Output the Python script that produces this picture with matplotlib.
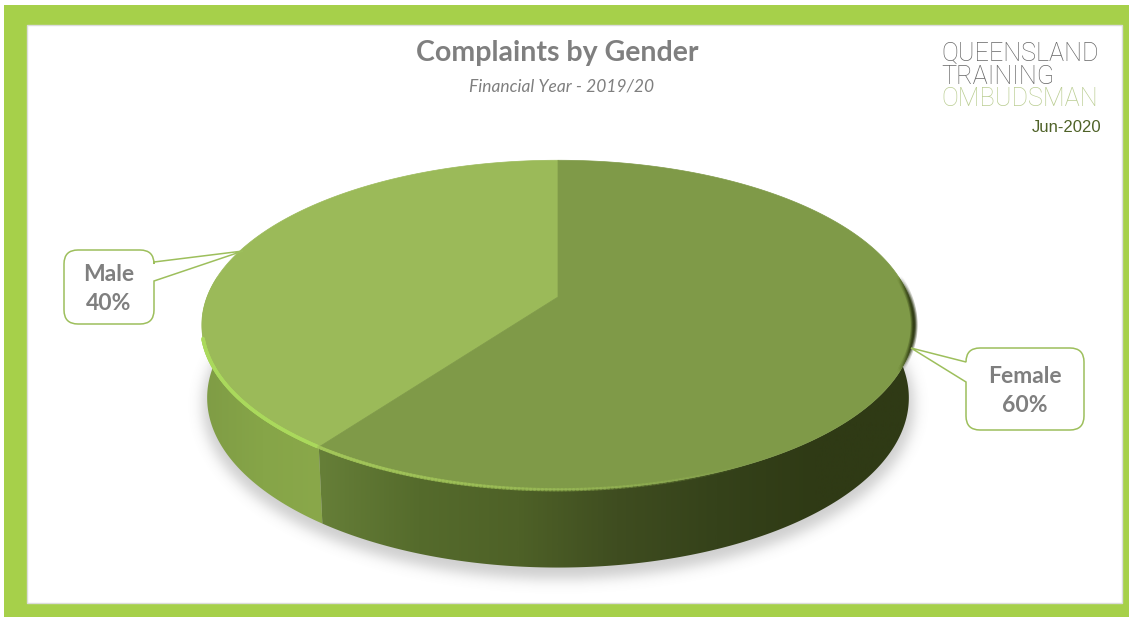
import numpy as np
import matplotlib
matplotlib.use('Agg')
import matplotlib.pyplot as plt
from matplotlib.patches import Rectangle, PathPatch, Polygon
from matplotlib.path import Path
from matplotlib.collections import LineCollection
from matplotlib.colors import LinearSegmentedColormap, to_rgb

labels = ['Male', 'Female']
shares = [40, 60]
title = 'Complaints by Gender'
subtitle = 'Financial Year - 2019/20'
logo_lines = ['QUEENSLAND', 'TRAINING', 'OMBUDSMAN']
stamp = 'Jun-2020'

W, H = 1129, 617
CX, CY = 558.0, 297.0
A, B, K = 351.0, 160.0, 0.17


def top_xy(theta):
    # theta: clockwise from 12 o'clock, on a circle seen in perspective
    u, v = np.sin(theta), -np.cos(theta)
    w = 1 - K * v
    return CX + A * u / w, CY + B * v / w


def bottom_xy(theta):
    x, y = top_xy(theta)
    return CX + (x - CX) * 0.985, CY + (y - CY) * 1.03 + 72


def blur(a, n):
    kernel = np.exp(-np.linspace(-2.2, 2.2, n) ** 2)
    kernel /= kernel.sum()
    a = np.apply_along_axis(lambda r: np.convolve(r, kernel, mode='same'), 0, a)
    return np.apply_along_axis(lambda r: np.convolve(r, kernel, mode='same'), 1, a)


def rim_line(ax, t, col, width, fade):
    # stroke along the rim, alpha given per segment
    x, y = top_xy(t)
    pts = np.column_stack([x, y])
    segs = np.stack([pts[:-1], pts[1:]], axis=1)
    rgba = np.zeros((len(segs), 4))
    rgba[:, :3] = to_rgb(col)
    rgba[:, 3] = fade[:-1]
    ax.add_collection(LineCollection(segs, colors=rgba, linewidths=width, zorder=5, capstyle='round'))


def wall_part(ax, t, cols):
    fx, fy = top_xy(t)
    gx, gy = bottom_xy(t)
    outline = np.column_stack([np.r_[fx, gx[::-1]], np.r_[fy, gy[::-1]]])
    cmap = LinearSegmentedColormap.from_list('wall', cols)
    x0, x1 = outline[:, 0].min(), outline[:, 0].max()
    im = ax.imshow(np.linspace(0, 1, 512)[None, :], extent=(x0, x1, 600, 250), cmap=cmap, aspect='auto', zorder=3)
    clip = Polygon(outline, closed=True, fc='none', ec='none')
    ax.add_patch(clip)
    im.set_clip_path(clip)


def callout(x0, y0, x1, y1, tip, base0, base1, r=14):
    verts = [(x0 + r, y0), (x1 - r, y0), (x1, y0), (x1, y0 + r)]
    codes = [Path.MOVETO, Path.LINETO, Path.CURVE3, Path.CURVE3]
    if tip[0] > x1:
        verts += [(x1, base0), tip, (x1, base1)]
        codes += [Path.LINETO] * 3
    verts += [(x1, y1 - r), (x1, y1), (x1 - r, y1), (x0 + r, y1), (x0, y1), (x0, y1 - r)]
    codes += [Path.LINETO, Path.CURVE3, Path.CURVE3, Path.LINETO, Path.CURVE3, Path.CURVE3]
    if tip[0] < x0:
        verts += [(x0, base1), tip, (x0, base0)]
        codes += [Path.LINETO] * 3
    verts += [(x0, y0 + r), (x0, y0), (x0 + r, y0), (x0 + r, y0)]
    codes += [Path.LINETO, Path.CURVE3, Path.CURVE3, Path.CLOSEPOLY]
    return Path(verts, codes)


fig = plt.figure(figsize=(W / 100, H / 100), dpi=100)
ax = fig.add_axes([0, 0, 1, 1])

ax.add_patch(Rectangle((4, 5), W - 4, H - 5, fc='#a6d04a', ec='none', zorder=0))
ax.add_patch(Rectangle((27, 25), 1095, 578, fc='white', ec='#dcdcdc', lw=1, zorder=1))

# angles of the slices, male runs back from 12 o'clock
male_end = -2 * np.pi * shares[0] / sum(shares)
male_t = np.linspace(male_end, 0, 200)
female_t = np.linspace(0, 2 * np.pi + male_end, 300)
all_t = np.linspace(0, 2 * np.pi, 600)

# soft shadow under the pie
yy, xx = np.mgrid[0:H, 0:W]
bx, by = bottom_xy(all_t)
shadow = ((xx - CX) / 356) ** 2 + ((yy - (by.min() + by.max()) / 2 - 7) / ((by.max() - by.min()) / 2 + 4)) ** 2 < 1
shadow = blur(shadow.astype(float), 41)
rgba = np.zeros((H, W, 4))
rgba[..., :3] = 0.5
rgba[..., 3] = shadow * 0.38
rgba[:26, :, 3] = 0
ax.imshow(rgba, extent=(0, W, H, 0), zorder=2, aspect='auto')

# side wall, one part per slice
wall_part(ax, np.linspace(np.pi * 2 + male_end, np.pi * 1.54, 100)[::-1],
          ['#7f9c45', '#86a548', '#8aa84a'])
wall_part(ax, np.linspace(np.pi * 0.46, 2 * np.pi + male_end, 300),
          ['#667f38', '#556b2c', '#4e6127', '#3f4d20', '#35421a', '#2f3a15', '#2f3a15'])

# top face
for t, col in zip([male_t, female_t], ['#9bba59', '#7f9a48']):
    x, y = top_xy(t)
    ax.fill(np.r_[CX, x], np.r_[CY, y], fc=col, ec=col, lw=0.5, zorder=4)

# bevel along the rim
t = np.linspace(np.pi * 2 + male_end, np.pi * 1.42, 150)
rim_line(ax, t, '#aad95c', 2.6, np.interp(t, [t[-1], np.pi * 1.52, t[0]], [0.0, 0.6, 1.0]))
t = np.linspace(np.pi * 2 + male_end, np.pi * 0.85, 120)
rim_line(ax, t, '#a3c75a', 2.4, np.interp(t, [t[-1], t[0]], [0.0, 0.9]))
t = np.linspace(np.pi * 0.46, np.pi * 0.64, 120)
for lw, a in [(5, 0.08), (3, 0.14), (1.5, 0.22)]:
    rim_line(ax, t, '#2f3a15', lw, a * np.sin(np.linspace(0, np.pi, 120)))

# callouts
boxes = {'Male': (64, 250, 154, 324), 'Female': (966, 348, 1084, 430)}
tips = {'Male': (243, 251), 'Female': (911, 348)}
bases = {'Male': (262, 281), 'Female': (362, 382)}
for name, share in zip(labels, shares):
    x0, y0, x1, y1 = boxes[name]
    ax.add_patch(PathPatch(callout(x0, y0, x1, y1, tips[name], *bases[name]),
                           fc='white', ec='#9dbf5c', lw=1.1, zorder=6))
    xm, ym = (x0 + x1) / 2, (y0 + y1) / 2
    ax.text(xm, ym - 12.5, name, ha='center', va='center', family='Lato', weight='bold',
            fontsize=16.5, color='#7f7f7f', zorder=8)
    ax.text(xm, ym + 16, f'{share}%', ha='center', va='center', family='Lato', weight='bold',
            fontsize=16.5, color='#7f7f7f', zorder=8)

ax.text(557, 52.5, title, ha='center', va='center', family='Lato', weight='bold', fontsize=20.5, color='#7f7f7f', zorder=8)
ax.text(562, 86, subtitle, ha='center', va='center', family='Lato', style='italic', fontsize=12.5, color='#7f7f7f', zorder=8)

logo_cols = ['#666666', '#666666', '#bacd92']
logo_y = [54, 77, 99]
for line, col, y in zip(logo_lines, logo_cols, logo_y):
    ax.text(941, y, line, ha='left', va='center', family='Roboto', weight='light', fontsize=18.2, color=col, zorder=8)
ax.text(1101, 128, stamp, ha='right', va='center', family='Liberation Sans', fontsize=12, color='#4f6228', zorder=8)

ax.set_xlim(0, W)
ax.set_ylim(H, 0)
ax.axis('off')
fig.savefig('out.png', dpi=100)
